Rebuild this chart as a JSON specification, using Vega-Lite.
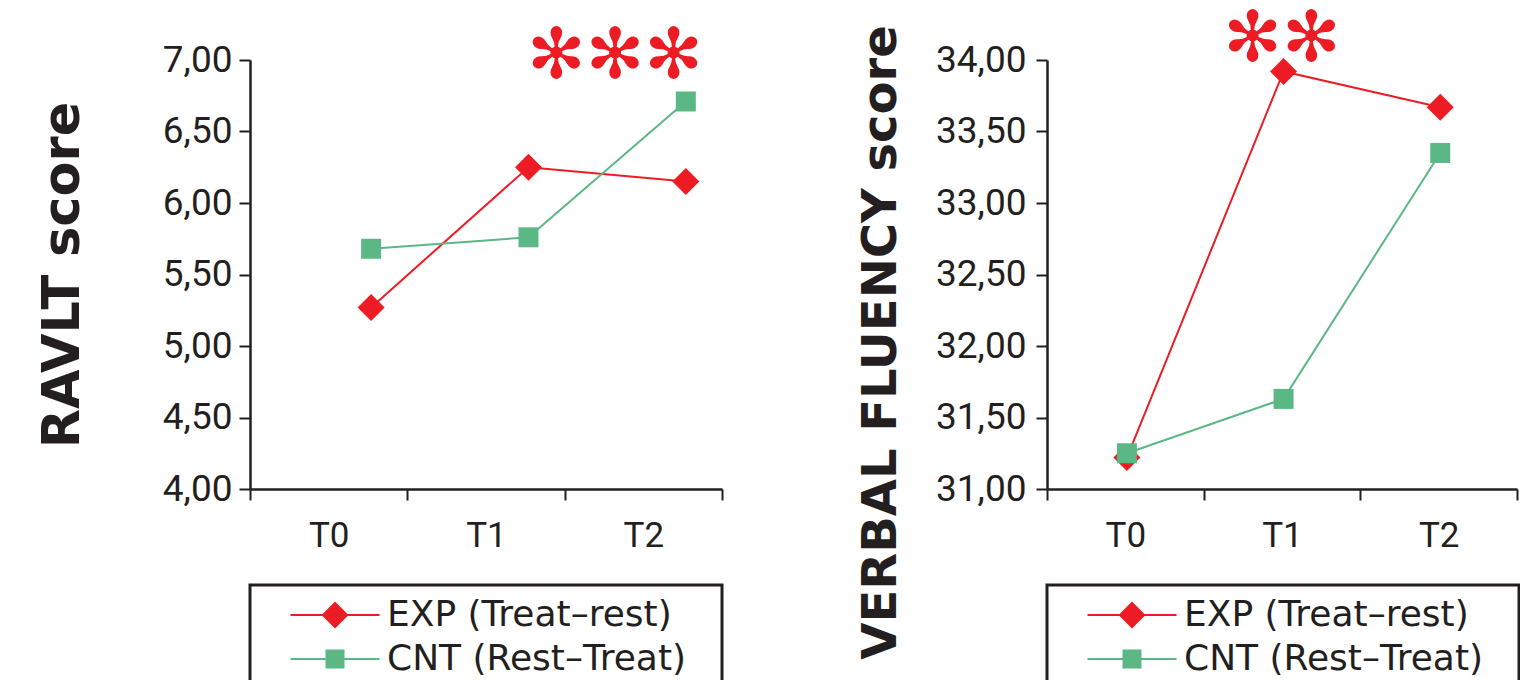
{
  "$schema": "https://vega.github.io/schema/vega-lite/v6.json",
  "background": "white",
  "padding": {"left": 37, "top": 4, "right": 0, "bottom": 0},
  "datasets": {
    "ravlt": [
      {"group": "EXP (Treat–rest)", "time": "T0", "score": 5.27},
      {"group": "EXP (Treat–rest)", "time": "T1", "score": 6.25},
      {"group": "EXP (Treat–rest)", "time": "T2", "score": 6.15},
      {"group": "CNT (Rest–Treat)", "time": "T0", "score": 5.68},
      {"group": "CNT (Rest–Treat)", "time": "T1", "score": 5.76},
      {"group": "CNT (Rest–Treat)", "time": "T2", "score": 6.71}
    ],
    "vf": [
      {"group": "EXP (Treat–rest)", "time": "T0", "score": 31.22},
      {"group": "EXP (Treat–rest)", "time": "T1", "score": 33.92},
      {"group": "EXP (Treat–rest)", "time": "T2", "score": 33.67},
      {"group": "CNT (Rest–Treat)", "time": "T0", "score": 31.25},
      {"group": "CNT (Rest–Treat)", "time": "T1", "score": 31.63},
      {"group": "CNT (Rest–Treat)", "time": "T2", "score": 33.35}
    ],
    "sig_ravlt": [{"time": "T2", "y": 7.02, "label": "✻✻✻"}],
    "sig_vf": [{"time": "T1", "y": 34.14, "label": "✻✻"}]
  },
  "spacing": 133,
  "resolve": {
    "scale": {"x": "independent", "y": "independent", "color": "independent", "shape": "independent"},
    "legend": {"color": "independent", "shape": "independent"}
  },
  "config": {
    "view": {"stroke": null},
    "axis": {
      "grid": false,
      "domainColor": "#231f20",
      "domainWidth": 2.5,
      "tickColor": "#231f20",
      "tickWidth": 2,
      "tickSize": 11,
      "labelColor": "#231f20",
      "labelFont": "Liberation Sans Narrow, Roboto",
      "titleColor": "#231f20",
      "titleFont": "DejaVu Sans",
      "titleFontWeight": "bold",
      "titleFontSize": 48
    },
    "legend": {
      "orient": "none",
      "legendX": 0,
      "legendY": 525,
      "titleOrient": "right",
      "titlePadding": 24,
      "titleFontSize": 10,
      "titleColor": "white",
      "padding": 12,
      "strokeColor": "#231f20",
      "strokeWidth": 3,
      "fillColor": "white",
      "labelFont": "DejaVu Sans",
      "labelFontSize": 36,
      "labelColor": "#231f20",
      "labelLimit": 600,
      "labelOffset": 34,
      "symbolOffset": 55,
      "symbolSize": 400,
      "symbolStrokeWidth": 0,
      "symbolOpacity": 1,
      "rowPadding": 8
    }
  },
  "hconcat": [
    {
      "width": 472,
      "height": 429,
      "encoding": {
        "x": {"field": "time", "type": "nominal", "bandPosition": 0.77,
          "scale": {"type": "band", "domain": ["T0", "T1", "T2"], "paddingInner": 0, "paddingOuter": 0},
          "axis": {"title": null, "labelAngle": 0, "labelFontSize": 35, "tickBand": "extent", "labelPadding": 18}},
        "y": {"field": "score", "type": "quantitative",
          "scale": {"domain": [4, 7], "nice": false, "zero": false},
          "axis": {"title": "RAVLT score", "titleFontSize": 51, "values": [4, 4.5, 5, 5.5, 6, 6.5, 7], "labelFontSize": 37, "labelPadding": 7, "titlePadding": 73,
            "labelExpr": "replace(format(datum.value, '.2f'), '.', ',')"}},
        "color": {"field": "group", "type": "nominal", "title": "\u00a0",
          "scale": {"domain": ["EXP (Treat–rest)", "CNT (Rest–Treat)"], "range": ["#ed1c24", "#5bb885"]}}
      },
      "layer": [
        {
          "data": {"name": "ravlt"},
          "mark": {"type": "line", "strokeWidth": 2}
        },
        {
          "data": {"name": "ravlt"},
          "mark": {"type": "point", "filled": true, "opacity": 0},
          "encoding": {
            "shape": {"field": "group", "type": "nominal", "title": "\u00a0",
              "scale": {"domain": ["EXP (Treat–rest)", "CNT (Rest–Treat)"], "range": ["M-4.45,-0.1H4.45V0.1H-4.45ZM0,-1.35L1.35,0L0,1.35L-1.35,0Z", "M-4.45,-0.1H4.45V0.1H-4.45ZM-0.95,-0.95H0.95V0.95H-0.95Z"]}}
          }
        },
        {
          "data": {"name": "ravlt"},
          "transform": [{"filter": "datum.group === 'EXP (Treat–rest)'"}],
          "mark": {"type": "point", "filled": true, "opacity": 1, "shape": "diamond", "size": 729}
        },
        {
          "data": {"name": "ravlt"},
          "transform": [{"filter": "datum.group === 'CNT (Rest–Treat)'"}],
          "mark": {"type": "point", "filled": true, "opacity": 1, "shape": "square", "size": 400}
        },
        {
          "data": {"name": "sig_ravlt"},
          "mark": {"type": "text", "font": "DejaVu Sans", "fontSize": 70, "color": "#ed1c24", "baseline": "middle"},
          "encoding": {
            "x": {"field": "time", "type": "nominal", "bandPosition": 0.32},
            "y": {"field": "y", "type": "quantitative"},
            "text": {"field": "label"},
            "color": {"value": "#ed1c24"}
          }
        }
      ]
    },
    {
      "width": 470,
      "height": 429,
      "encoding": {
        "x": {"field": "time", "type": "nominal", "bandPosition": 0.51,
          "scale": {"type": "band", "domain": ["T0", "T1", "T2"], "paddingInner": 0, "paddingOuter": 0},
          "axis": {"title": null, "labelAngle": 0, "labelFontSize": 35, "tickBand": "extent", "labelPadding": 18}},
        "y": {"field": "score", "type": "quantitative",
          "scale": {"domain": [31, 34], "nice": false, "zero": false},
          "axis": {"title": "VERBAL FLUENCY score", "titleY": 282, "values": [31, 31.5, 32, 32.5, 33, 33.5, 34], "labelFontSize": 37, "labelPadding": 10, "titlePadding": 30,
            "labelExpr": "replace(format(datum.value, '.2f'), '.', ',')"}},
        "color": {"field": "group", "type": "nominal", "title": "\u00a0",
          "scale": {"domain": ["EXP (Treat–rest)", "CNT (Rest–Treat)"], "range": ["#ed1c24", "#5bb885"]}}
      },
      "layer": [
        {
          "data": {"name": "vf"},
          "mark": {"type": "line", "strokeWidth": 2}
        },
        {
          "data": {"name": "vf"},
          "mark": {"type": "point", "filled": true, "opacity": 0},
          "encoding": {
            "shape": {"field": "group", "type": "nominal", "title": "\u00a0",
              "scale": {"domain": ["EXP (Treat–rest)", "CNT (Rest–Treat)"], "range": ["M-4.45,-0.1H4.45V0.1H-4.45ZM0,-1.35L1.35,0L0,1.35L-1.35,0Z", "M-4.45,-0.1H4.45V0.1H-4.45ZM-0.95,-0.95H0.95V0.95H-0.95Z"]}}
          }
        },
        {
          "data": {"name": "vf"},
          "transform": [{"filter": "datum.group === 'EXP (Treat–rest)'"}],
          "mark": {"type": "point", "filled": true, "opacity": 1, "shape": "diamond", "size": 729}
        },
        {
          "data": {"name": "vf"},
          "transform": [{"filter": "datum.group === 'CNT (Rest–Treat)'"}],
          "mark": {"type": "point", "filled": true, "opacity": 1, "shape": "square", "size": 400}
        },
        {
          "data": {"name": "sig_vf"},
          "mark": {"type": "text", "font": "DejaVu Sans", "fontSize": 70, "color": "#ed1c24", "baseline": "middle"},
          "encoding": {
            "x": {"field": "time", "type": "nominal", "bandPosition": 0.5},
            "y": {"field": "y", "type": "quantitative"},
            "text": {"field": "label"},
            "color": {"value": "#ed1c24"}
          }
        }
      ]
    }
  ]
}
